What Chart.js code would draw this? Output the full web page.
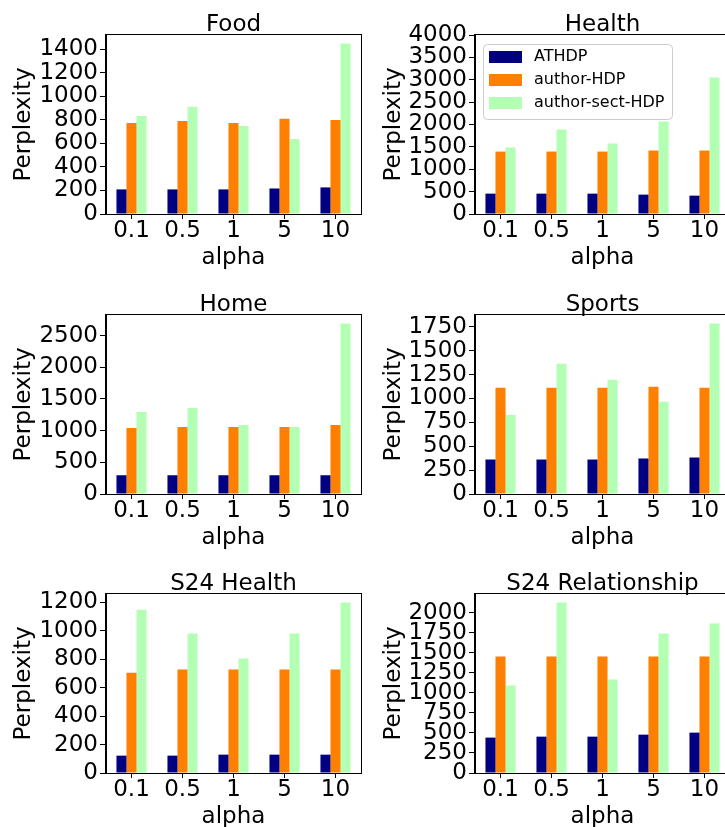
<!DOCTYPE html>
<html>
<head>
<meta charset="utf-8">
<title>Perplexity vs alpha</title>
<script src="https://cdn.jsdelivr.net/npm/chart.js@4.4.0/dist/chart.umd.min.js"></script>
<style>
  html, body { margin: 0; padding: 0; background: #fff; overflow: hidden; }
  #page { position: relative; width: 725px; height: 827px; overflow: hidden; }
  #page canvas { position: absolute; }
</style>
</head>
<body>
<div id="page">
  <canvas id="c-food" width="370" height="275" style="left:0;top:0"></canvas>
  <canvas id="c-health" width="370" height="275" style="left:370px;top:0"></canvas>
  <canvas id="c-home" width="370" height="275" style="left:0;top:280px"></canvas>
  <canvas id="c-sports" width="370" height="275" style="left:370px;top:280px"></canvas>
  <canvas id="c-s24health" width="370" height="275" style="left:0;top:559px"></canvas>
  <canvas id="c-s24rel" width="370" height="275" style="left:370px;top:559px"></canvas>
</div>
<script>
const alphas = ["0.1", "0.5", "1", "5", "10"];
const seriesNames = ["ATHDP", "author-HDP", "author-sect-HDP"];
const seriesColors = ["#000080", "#ff7f00", "#b3ffb3"];

// Food
const foodAthdp = [209, 209, 209, 217, 226];
const foodAuthor = [774, 791, 774, 809, 800];
const foodSect = [834, 911, 749, 637, 1449];
const foodTicks = [0, 200, 400, 600, 800, 1000, 1200, 1400];
// Health
const healthAthdp = [455, 455, 455, 433, 410];
const healthAuthor = [1395, 1395, 1395, 1418, 1418];
const healthSect = [1485, 1888, 1575, 2067, 3052];
const healthTicks = [0, 500, 1000, 1500, 2000, 2500, 3000, 3500, 4000];
// Home
const homeAthdp = [296, 296, 296, 296, 296];
const homeAuthor = [1041, 1057, 1057, 1057, 1089];
const homeSect = [1295, 1358, 1089, 1057, 2690];
const homeTicks = [0, 500, 1000, 1500, 2000, 2500];
// Sports
const sportsAthdp = [361, 361, 361, 372, 382];
const sportsAuthor = [1112, 1112, 1112, 1122, 1112];
const sportsSect = [828, 1364, 1196, 965, 1785];
const sportsTicks = [0, 250, 500, 750, 1000, 1250, 1500, 1750];
// S24 Health
const s24hAthdp = [122, 122, 129, 129, 129];
const s24hAuthor = [705, 727, 727, 727, 727];
const s24hSect = [1148, 980, 804, 980, 1198];
const s24hTicks = [0, 200, 400, 600, 800, 1000, 1200];
// S24 Relationship
const s24rAthdp = [442, 454, 454, 479, 504];
const s24rAuthor = [1454, 1454, 1454, 1454, 1454];
const s24rSect = [1092, 2129, 1167, 1742, 1867];
const s24rTicks = [0, 250, 500, 750, 1000, 1250, 1500, 1750, 2000];

const FONT = "'DejaVu Sans', sans-serif";

// title centred over the plot area, like matplotlib's ax.set_title
const panelTitle = {
  id: "panelTitle",
  afterDraw(chart, args, opts) {
    const { ctx, chartArea } = chart;
    ctx.save();
    ctx.font = "23px " + FONT;
    ctx.fillStyle = "#000";
    ctx.textAlign = "center";
    ctx.textBaseline = "alphabetic";
    ctx.fillText(opts.text, (chartArea.left + chartArea.right) / 2, chartArea.top - 4);
    ctx.restore();
  }
};

// four spines around the axes
const frame = {
  id: "frame",
  afterDraw(chart) {
    const { ctx, chartArea } = chart;
    ctx.save();
    ctx.strokeStyle = "#000";
    ctx.lineWidth = 1;
    ctx.strokeRect(Math.round(chartArea.left) - 0.5, Math.round(chartArea.top) - 0.5,
      Math.round(chartArea.right - chartArea.left) + 1, Math.round(chartArea.bottom - chartArea.top) + 1);
    ctx.restore();
  }
};

// matplotlib style legend box in the upper left of the plot area
const innerLegend = {
  id: "innerLegend",
  afterDatasetsDraw(chart, args, opts) {
    if (!opts.show) return;
    const { ctx, chartArea } = chart;
    const x = chartArea.left + 8, y = chartArea.top + 9, w = 189, h = 75;
    ctx.save();
    ctx.beginPath();
    ctx.roundRect(x + 0.5, y + 0.5, w, h, 4);
    ctx.fillStyle = "rgba(255,255,255,0.8)";
    ctx.fill();
    ctx.strokeStyle = "#cccccc";
    ctx.lineWidth = 1;
    ctx.stroke();
    ctx.font = "16px " + FONT;
    ctx.textBaseline = "middle";
    ctx.textAlign = "left";
    chart.data.datasets.forEach((ds, i) => {
      const cy = y + 13 + i * 23;
      ctx.fillStyle = ds.backgroundColor;
      ctx.fillRect(x + 6, cy - 6, 33, 12);
      ctx.fillStyle = "#000";
      ctx.fillText(ds.label, x + 51, cy);
    });
    ctx.restore();
  }
};

function drawPanel(id, title, athdp, author, sect, yTicks, yMax, isRight, showLegend) {
  const ctx = document.getElementById(id).getContext("2d");
  const values = [athdp, author, sect];
  new Chart(ctx, {
    type: "bar",
    data: {
      labels: alphas,
      datasets: seriesNames.map((name, i) => ({
        label: name,
        data: values[i],
        backgroundColor: seriesColors[i],
        borderWidth: 0,
        categoryPercentage: 0.59,
        barPercentage: 1.0
      }))
    },
    options: {
      responsive: false,
      animation: false,
      devicePixelRatio: 1,
      layout: { padding: { top: 35, left: 0, right: isRight ? 10 : 9, bottom: 0 } },
      plugins: {
        legend: { display: false },
        tooltip: { enabled: false },
        panelTitle: { text: title },
        innerLegend: { show: showLegend }
      },
      scales: {
        x: {
          offset: true,
          grid: { display: true, drawOnChartArea: false, offset: false, tickLength: 5, tickColor: "#000" },
          border: { display: true, color: "#000" },
          ticks: { color: "#000", padding: -2, maxRotation: 0, autoSkip: false, font: { family: FONT, size: 23 } },
          title: { display: true, text: "alpha", color: "#000", padding: { top: 0, bottom: 3 }, font: { family: FONT, size: 23 } },
          afterFit(scale) { scale.height = 61; }
        },
        y: {
          min: 0,
          max: yMax,
          grid: { display: true, drawOnChartArea: false, tickLength: 6, tickColor: "#000" },
          border: { display: true, color: "#000" },
          ticks: {
            autoSkip: false, color: "#000", padding: 2, font: { family: FONT, size: 23 },
            callback: (v) => String(v)
          },
          afterBuildTicks(scale) { scale.ticks = yTicks.map((v) => ({ value: v })); },
          title: { display: true, text: "Perplexity", color: "#000", padding: { top: 10, bottom: 0 }, font: { family: FONT, size: 23 } },
          afterFit(scale) { scale.width = isRight ? 105 : 106; }
        }
      }
    },
    plugins: [panelTitle, frame, innerLegend]
  });
}

const autoMax = (arr) => Math.max(...arr) * 1.05;

drawPanel("c-food", "Food", foodAthdp, foodAuthor, foodSect, foodTicks, autoMax(foodSect), false, false);
drawPanel("c-health", "Health", healthAthdp, healthAuthor, healthSect, healthTicks, 4000, true, true);
drawPanel("c-home", "Home", homeAthdp, homeAuthor, homeSect, homeTicks, autoMax(homeSect), false, false);
drawPanel("c-sports", "Sports", sportsAthdp, sportsAuthor, sportsSect, sportsTicks, autoMax(sportsSect), true, false);
drawPanel("c-s24health", "S24 Health", s24hAthdp, s24hAuthor, s24hSect, s24hTicks, autoMax(s24hSect), false, false);
drawPanel("c-s24rel", "S24 Relationship", s24rAthdp, s24rAuthor, s24rSect, s24rTicks, autoMax(s24rSect), true, false);
</script>
</body>
</html>
